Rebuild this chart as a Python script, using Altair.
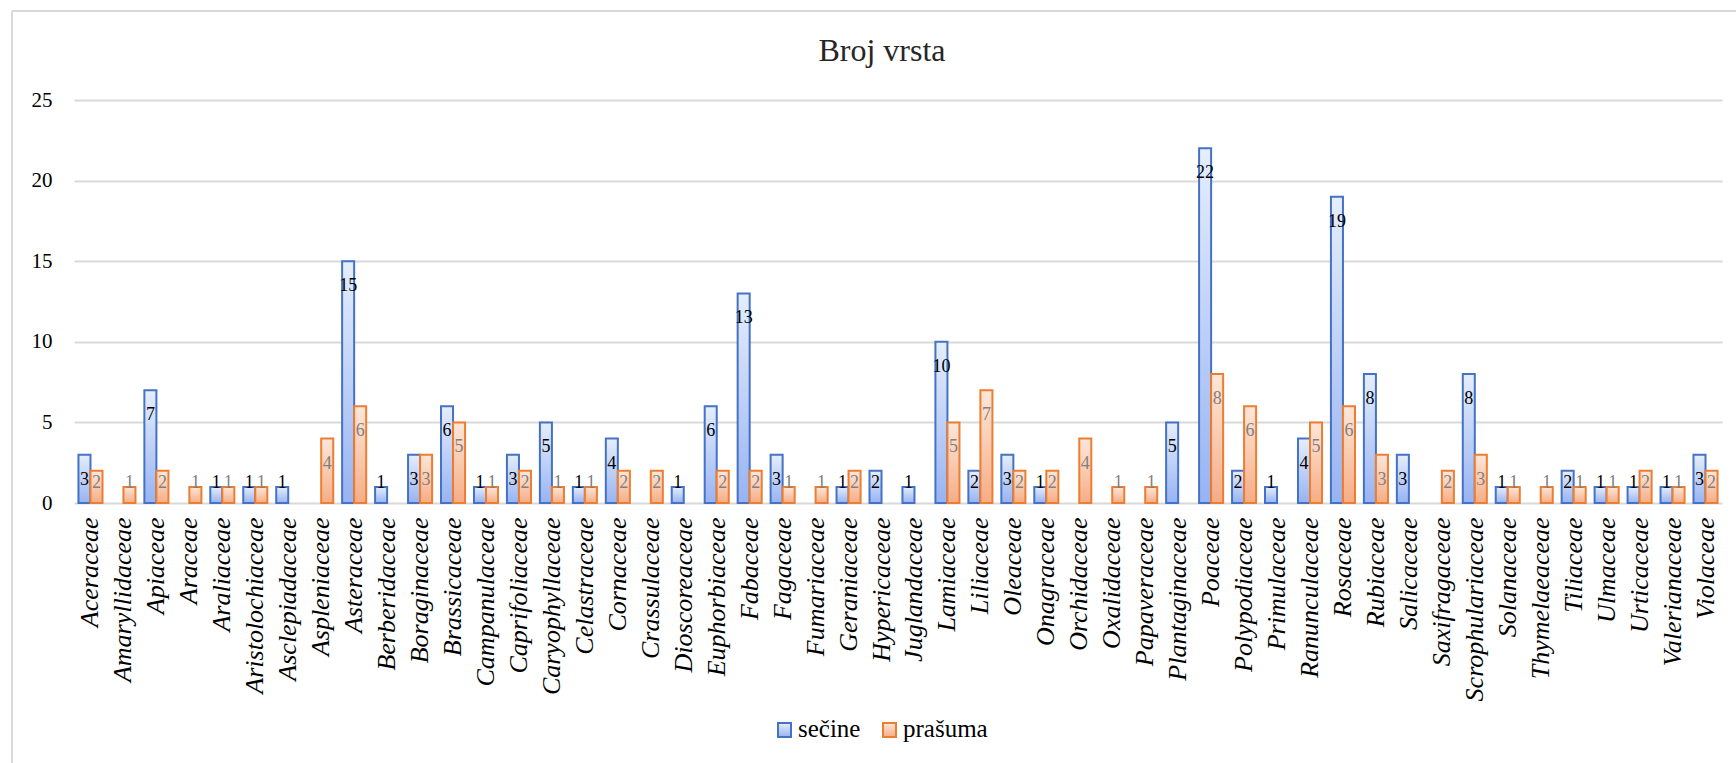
import altair as alt
import pandas as pd

families = ["Aceraceae", "Amaryllidaceae", "Apiaceae", "Araceae", "Araliaceae",
            "Aristolochiaceae", "Asclepiadaceae", "Aspleniaceae", "Asteraceae", "Berberidaceae",
            "Boraginaceae", "Brassicaceae", "Campanulaceae", "Caprifoliaceae", "Caryophyllaceae",
            "Celastraceae", "Cornaceae", "Crassulaceae", "Dioscoreaceae", "Euphorbiaceae",
            "Fabaceae", "Fagaceae", "Fumariaceae", "Geraniaceae", "Hypericaceae",
            "Juglandaceae", "Lamiaceae", "Liliaceae", "Oleaceae", "Onagraceae",
            "Orchidaceae", "Oxalidaceae", "Papaveraceae", "Plantaginaceae", "Poaceae",
            "Polypodiaceae", "Primulaceae", "Ranunculaceae", "Rosaceae", "Rubiaceae",
            "Salicaceae", "Saxifragaceae", "Scrophulariaceae", "Solanaceae", "Thymelaeaceae",
            "Tiliaceae", "Ulmaceae", "Urticaceae", "Valerianaceae", "Violaceae"]

secine = [3, 0, 7, 0, 1, 1, 1, 0, 15, 1,
          3, 6, 1, 3, 5, 1, 4, 0, 1, 6,
          13, 3, 0, 1, 2, 1, 10, 2, 3, 1,
          0, 0, 0, 5, 22, 2, 1, 4, 19, 8,
          3, 0, 8, 1, 0, 2, 1, 1, 1, 3]

prasuma = [2, 1, 2, 1, 1, 1, 0, 4, 6, 0,
           3, 5, 1, 2, 1, 1, 2, 2, 0, 2,
           2, 1, 1, 2, 0, 0, 5, 7, 2, 2,
           4, 1, 1, 0, 8, 6, 0, 5, 6, 3,
           0, 2, 3, 1, 1, 1, 1, 2, 1, 2]

y_ticks = [0, 5, 10, 15, 20, 25]
series_names = ["sečine", "prašuma"]
title_text = "Broj vrsta"

rows = []
for f, a, b in zip(families, secine, prasuma):
    rows.append({"family": f, "series": series_names[0], "value": a})
    rows.append({"family": f, "series": series_names[1], "value": b})
df = pd.DataFrame(rows)

W, H = 1648, 403
PAD_L, PAD_T = 74, 100
SERIF = "Liberation Serif"

styles = {
    series_names[0]: dict(
        fill={"gradient": "linear", "x1": 0, "y1": 0, "x2": 0, "y2": 1,
              "stops": [{"offset": 0, "color": "#e6eefc"}, {"offset": 1, "color": "#97b3f2"}]},
        stroke="#4472c4", label="#000000"),
    series_names[1]: dict(
        fill={"gradient": "linear", "x1": 0, "y1": 0, "x2": 0, "y2": 1,
              "stops": [{"offset": 0, "color": "#fde7da"}, {"offset": 1, "color": "#f5ad86"}]},
        stroke="#ed7d31", label="#808080"),
}

x_axis = alt.Axis(labelAngle=-90, labelFont=SERIF, labelFontStyle="italic", labelFontSize=26,
                  labelColor="#000000", labelPadding=14, ticks=False, domain=False, grid=False,
                  labelLimit=400, labelOverlap=False)
y_axis = alt.Axis(values=y_ticks, labelFont=SERIF, labelFontSize=21, labelColor="#000000",
                  labelPadding=22, ticks=False, domain=False, grid=True, gridColor="#d9d9d9",
                  gridWidth=2)

x_enc = alt.X("family:N", sort=families, title=None, axis=x_axis,
              scale=alt.Scale(domain=families, paddingInner=0.27, paddingOuter=0.135))
xo_enc = alt.XOffset("series:N", scale=alt.Scale(domain=series_names, paddingInner=0, paddingOuter=0))
y_scale = alt.Scale(domain=[0, 25], nice=False)

layers = []
for s in series_names:
    st = styles[s]
    bars = alt.Chart(df).transform_filter(
        f"datum.series == '{s}' && datum.value > 0"
    ).mark_bar(fill=st["fill"], stroke=st["stroke"], strokeWidth=2).encode(
        x=x_enc, xOffset=xo_enc,
        y=alt.Y("value:Q", scale=y_scale, title=None, axis=y_axis),
    )
    labels = alt.Chart(df).transform_filter(
        f"datum.series == '{s}' && datum.value > 0"
    ).transform_calculate(
        ly="max(datum.value - 1.55, 1.24)"
    ).mark_text(font=SERIF, fontSize=18, color=st["label"], baseline="middle", align="center").encode(
        x=x_enc, xOffset=xo_enc,
        y=alt.Y("ly:Q", scale=y_scale, title=None, axis=y_axis),
        text=alt.Text("value:Q"),
    )
    layers += [bars, labels]

one = alt.Data(values=[{}])

title = alt.Chart(one).mark_text(
    text=title_text, font=SERIF, fontSize=32, color="#262626", align="center", baseline="alphabetic"
).encode(x=alt.value(808), y=alt.value(-39))

frame_left = alt.Chart(one).mark_rule(color="#d9d9d9", strokeWidth=2).encode(
    x=alt.value(12 - PAD_L), y=alt.value(11 - PAD_T), y2=alt.value(763 - PAD_T))
frame_top = alt.Chart(one).mark_rule(color="#d9d9d9", strokeWidth=2).encode(
    x=alt.value(12 - PAD_L), x2=alt.value(1736 - PAD_L), y=alt.value(11 - PAD_T))

legend_layers = []
leg_x = [704, 809]
for s, lx in zip(series_names, leg_x):
    st = styles[s]
    ld = alt.Data(values=[{"s": s}])
    legend_layers.append(alt.Chart(ld).mark_rect(fill=st["fill"], stroke=st["stroke"], strokeWidth=2).encode(
        x=alt.value(lx), x2=alt.value(lx + 13), y=alt.value(623), y2=alt.value(637)))
    legend_layers.append(alt.Chart(ld).mark_text(
        font=SERIF, fontSize=25, color="#000000", align="left", baseline="alphabetic").encode(
        x=alt.value(lx + 20), y=alt.value(637), text="s:N"))

chart = alt.layer(*layers, frame_left, frame_top, title, *legend_layers).properties(
    width=W, height=H,
    autosize=alt.AutoSizeParams(type="none"),
    padding={"left": PAD_L, "top": PAD_T, "right": 1736 - PAD_L - W, "bottom": 763 - PAD_T - H},
    background="white",
).configure_view(stroke=None)

chart.save("out.html", embed_options={"renderer": "svg", "actions": False})
